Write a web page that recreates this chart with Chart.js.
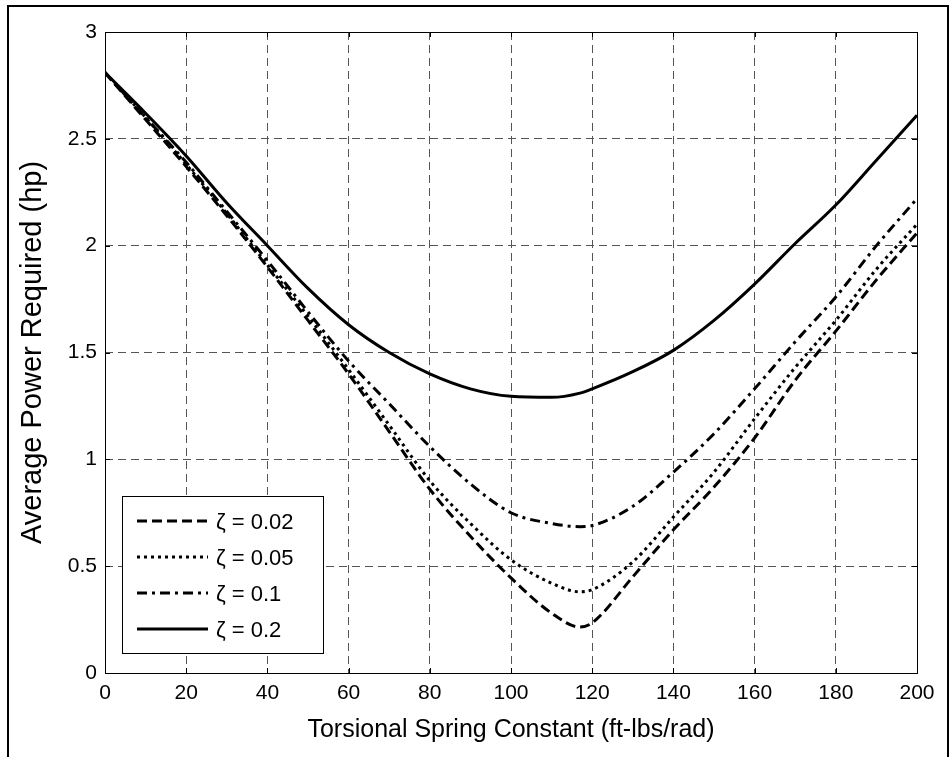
<!DOCTYPE html>
<html>
<head>
<meta charset="utf-8">
<script src="https://cdn.jsdelivr.net/npm/chart.js@4"></script>
<style>
  body { margin: 0; background: #fff; }
  #wrap { width: 951px; height: 757px; }
</style>
</head>
<body>
<div id="wrap"><canvas id="powerChart" width="951" height="757"></canvas></div>
<script>
// spring constant samples (ft-lbs/rad) and average power (hp) per damping ratio
const springK  = [0, 10, 20, 30, 40, 50, 60, 70, 80, 90, 100, 110, 117, 120, 130, 140, 150, 160, 170, 180, 190, 200];
const zeta002  = [2.81, 2.59, 2.37, 2.14, 1.90, 1.65, 1.40, 1.13, 0.86, 0.64, 0.445, 0.28, 0.215, 0.235, 0.45, 0.67, 0.87, 1.10, 1.37, 1.60, 1.84, 2.06];
const zeta005  = [2.81, 2.60, 2.38, 2.15, 1.91, 1.67, 1.42, 1.16, 0.90, 0.70, 0.53, 0.42, 0.38, 0.39, 0.52, 0.73, 0.94, 1.19, 1.43, 1.65, 1.89, 2.10];
const zeta01   = [2.81, 2.60, 2.39, 2.16, 1.93, 1.69, 1.46, 1.26, 1.06, 0.885, 0.75, 0.70, 0.685, 0.69, 0.78, 0.94, 1.12, 1.33, 1.55, 1.76, 2.00, 2.22];
const zeta02   = [2.81, 2.62, 2.42, 2.20, 2.00, 1.80, 1.63, 1.50, 1.40, 1.33, 1.295, 1.29, 1.31, 1.33, 1.41, 1.51, 1.65, 1.82, 2.01, 2.19, 2.40, 2.61];
const seriesLabels = ['ζ = 0.02', 'ζ = 0.05', 'ζ = 0.1', 'ζ = 0.2'];
const xTicks = [0, 20, 40, 60, 80, 100, 120, 140, 160, 180, 200];
const yTicks = [0, 0.5, 1, 1.5, 2, 2.5, 3];

const dashes = [[10, 5], [3, 4], [10, 5, 3, 5], []];
const FONT = 'Liberation Sans, Arial, sans-serif';

function toPoints(arr) {
    return springK.map((k, i) => ({ x: k, y: arr[i] }));
}

const series = [zeta002, zeta005, zeta01, zeta02];
const datasets = series.map((arr, i) => ({
    label: seriesLabels[i],
    data: toPoints(arr),
    borderColor: '#000',
    borderWidth: 3,
    borderDash: dashes[i],
    borderCapStyle: 'butt',
    pointRadius: 0,
    cubicInterpolationMode: 'monotone',
    fill: false
}));

// figure frame, axes box with inward ticks, and the boxed legend (MATLAB look)
const matlabFrame = {
    id: 'matlabFrame',
    beforeDraw(chart) {
        const ctx = chart.ctx;
        ctx.save();
        ctx.strokeStyle = '#000';
        ctx.lineWidth = 2;
        ctx.strokeRect(8, 6, 940, 800);
        ctx.restore();
    },
    afterDatasetsDraw(chart) {
        const { ctx, chartArea: a, scales } = chart;
        ctx.save();
        ctx.strokeStyle = '#000';
        ctx.lineWidth = 1;
        ctx.strokeRect(a.left + 0.5, a.top + 0.5, a.right - a.left, a.bottom - a.top);
        ctx.beginPath();
        xTicks.forEach(v => {
            const px = Math.round(scales.x.getPixelForValue(v)) + 0.5;
            ctx.moveTo(px, a.bottom); ctx.lineTo(px, a.bottom - 5);
            ctx.moveTo(px, a.top); ctx.lineTo(px, a.top + 5);
        });
        yTicks.forEach(v => {
            const py = Math.round(scales.y.getPixelForValue(v)) + 0.5;
            ctx.moveTo(a.left, py); ctx.lineTo(a.left + 5, py);
            ctx.moveTo(a.right, py); ctx.lineTo(a.right - 5, py);
        });
        ctx.stroke();
        ctx.restore();
    },
    afterDraw(chart) {
        const ctx = chart.ctx;
        const box = { x: 122, y: 496, w: 201, h: 157 };
        ctx.save();
        ctx.fillStyle = '#fff';
        ctx.fillRect(box.x, box.y, box.w, box.h);
        ctx.strokeStyle = '#000';
        ctx.lineWidth = 1;
        ctx.strokeRect(box.x + 0.5, box.y + 0.5, box.w, box.h);
        ctx.font = '22px ' + FONT;
        ctx.textBaseline = 'middle';
        ctx.fillStyle = '#000';
        seriesLabels.forEach((lab, i) => {
            const y = 521 + i * 36;
            ctx.beginPath();
            ctx.setLineDash(dashes[i]);
            ctx.lineWidth = 3;
            ctx.moveTo(137, y);
            ctx.lineTo(208, y);
            ctx.stroke();
            ctx.setLineDash([]);
            ctx.fillText(lab, 216, y + 2);
        });
        ctx.restore();
    }
};

const ctx = document.getElementById('powerChart').getContext('2d');
const powerChart = new Chart(ctx, {
    type: 'line',
    data: { datasets: datasets },
    plugins: [matlabFrame],
    options: {
        responsive: false,
        animation: false,
        layout: { padding: { top: 32, right: 34, left: 0, bottom: 0 } },
        plugins: {
            legend: { display: false },
            tooltip: { enabled: false }
        },
        scales: {
            x: {
                type: 'linear',
                min: 0,
                max: 200,
                afterFit: s => { s.height = 84; },
                afterBuildTicks: s => { s.ticks = xTicks.map(v => ({ value: v })); },
                ticks: { color: '#000', font: { family: FONT, size: 21 }, padding: 8, maxRotation: 0 },
                grid: { color: '#555', lineWidth: 1, drawTicks: false },
                border: { display: false, dash: [8, 5] },
                title: {
                    display: true,
                    text: 'Torsional Spring Constant (ft-lbs/rad)',
                    color: '#000',
                    font: { family: FONT, size: 25 },
                    padding: { top: 0, bottom: 12 }
                }
            },
            y: {
                type: 'linear',
                min: 0,
                max: 3,
                afterFit: s => { s.width = 105; },
                afterBuildTicks: s => { s.ticks = yTicks.map(v => ({ value: v })); },
                ticks: { color: '#000', font: { family: FONT, size: 21 }, padding: 8, callback: v => String(v) },
                grid: { color: '#555', lineWidth: 1, drawTicks: false },
                border: { display: false, dash: [8, 5] },
                title: {
                    display: true,
                    text: 'Average Power Required (hp)',
                    color: '#000',
                    font: { family: FONT, size: 29 },
                    padding: { top: 16, bottom: 0 }
                }
            }
        }
    }
});
</script>
</body>
</html>
